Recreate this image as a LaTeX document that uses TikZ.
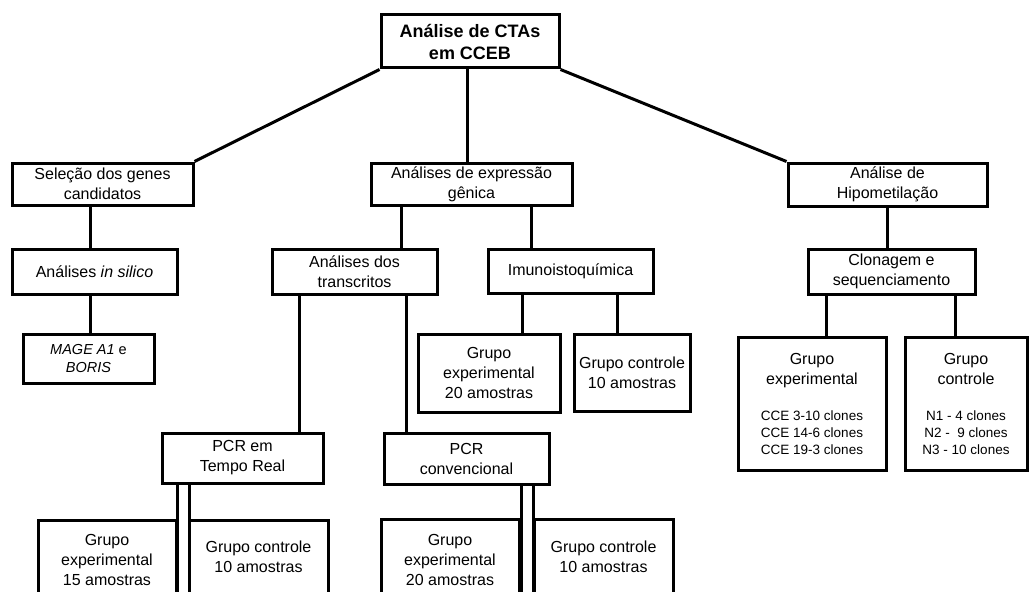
\documentclass[tikz,border=0pt]{standalone}
\usepackage{fontspec}
\setmainfont{Liberation Sans}
\usepackage{tikz}

\tikzset{
	caixa/.style={draw, line width=3pt, inner sep=0pt, align=center,
		font=\fontsize{16}{20}\selectfont},
	ligacao/.style={line width=3pt}
}
\newcommand{\pequeno}{\fontsize{13.5}{17}\selectfont}

\begin{document}
\begin{tikzpicture}[x=1pt,y=-1pt]
		\useasboundingbox (0,0) rectangle (1032,591);
		\clip (0,0) rectangle (1032,591);
		%
		\node[caixa, minimum width=178, minimum height=53, font=\fontsize{18}{22}\selectfont\bfseries] (topo) at (470,41.5) {Análise de CTAs\\em CCEB};
		% ramo esquerdo
		\node[caixa, minimum width=181, minimum height=42] (selecao) at (102.5,184) {Seleção dos genes\\candidatos};
		\node[caixa, minimum width=165, minimum height=45] (silico) at (94.5,271.5) {Análises \textit{in silico}};
		\node[caixa, minimum width=131, minimum height=49, font=\fontsize{14.5}{18}\selectfont] (mage) at (88.5,358.5) {\textit{MAGE A1} e\\\textit{BORIS}};
		% ramo central
		\node[caixa, minimum width=201, minimum height=42] (expr) at (471.5,184) {Análises de expressão\\gênica};
		\node[caixa, minimum width=165, minimum height=45] (transcr) at (354.5,271.5) {Análises dos\\transcritos};
		\node[caixa, minimum width=165, minimum height=44] (imuno) at (570.5,271) {Imunoistoquímica};
		\node[caixa, minimum width=142, minimum height=78] (imexp) at (489,373) {Grupo\\experimental\\20 amostras};
		\node[caixa, minimum width=116, minimum height=77] (imctl) at (632,372.5) {Grupo controle\\10 amostras};
		\node[caixa, minimum width=161, minimum height=50] (pcrtr) at (242.5,458) {PCR em\\Tempo Real};
		\node[caixa, minimum width=165, minimum height=51] (pcrcv) at (466.5,458.5) {PCR\\convencional};
		\node[caixa, minimum width=138, minimum height=80] (trexp) at (107,560) {Grupo\\experimental\\15 amostras};
		\node[caixa, minimum width=139, minimum height=74] (trctl) at (258.5,557) {Grupo controle\\10 amostras};
		\node[caixa, minimum width=138, minimum height=81] (cvexp) at (450,559.5) {Grupo\\experimental\\20 amostras};
		\node[caixa, minimum width=139, minimum height=75] (cvctl) at (603.5,556.5) {Grupo controle\\10 amostras};
		% ramo direito
		\node[caixa, minimum width=199, minimum height=43] (hipo) at (887.5,184.5) {Análise de\\Hipometilação};
		\node[caixa, minimum width=167, minimum height=45] (clon) at (891.5,271.5) {Clonagem e\\sequenciamento};
		\node[caixa, minimum width=148, minimum height=133] (clexp) at (812,403.5) {Grupo\\experimental\\[16pt]{\pequeno CCE 3-10 clones}\\[-3pt]{\pequeno CCE 14-6 clones}\\[-3pt]{\pequeno CCE 19-3 clones}};
		\node[caixa, minimum width=122, minimum height=133] (clctl) at (966,403.5) {Grupo\\controle\\[16pt]{\pequeno N1 - 4 clones}\\[-3pt]{\pequeno N2 -\ \ 9 clones}\\[-3pt]{\pequeno N3 - 10 clones}};
		%
		\coordinate (fimA) at (177,600);
		\coordinate (fimB) at (189,600);
		\coordinate (fimC) at (521,600);
		\coordinate (fimD) at (533,600);
		%
		\path[ligacao]
		% ramos do topo
		(topo.south west) edge (selecao.north east)
		(topo.south -| 467,0) edge (expr.north -| 467,0)
		(topo.south east) edge (hipo.north west)
		% ramo esquerdo
		(selecao.south -| 90,0) edge (silico.north -| 90,0)
		(silico.south -| 90,0) edge (mage.north -| 90,0)
		% ramo central
		(expr.south -| 401,0) edge (transcr.north -| 401,0)
		(expr.south -| 531,0) edge (imuno.north -| 531,0)
		(imuno.south -| 522,0) edge (imexp.north -| 522,0)
		(imuno.south -| 617,0) edge (imctl.north -| 617,0)
		(transcr.south -| 299,0) edge (pcrtr.north -| 299,0)
		(transcr.south -| 406,0) edge (pcrcv.north -| 406,0)
		(pcrtr.south -| fimA) edge (fimA)
		(pcrtr.south -| fimB) edge (fimB)
		(pcrcv.south -| fimC) edge (fimC)
		(pcrcv.south -| fimD) edge (fimD)
		% ramo direito
		(hipo.south -| 887,0) edge (clon.north -| 887,0)
		(clon.south -| 826,0) edge (clexp.north -| 826,0)
		(clon.south -| 955,0) edge (clctl.north -| 955,0);
\end{tikzpicture}
\end{document}
